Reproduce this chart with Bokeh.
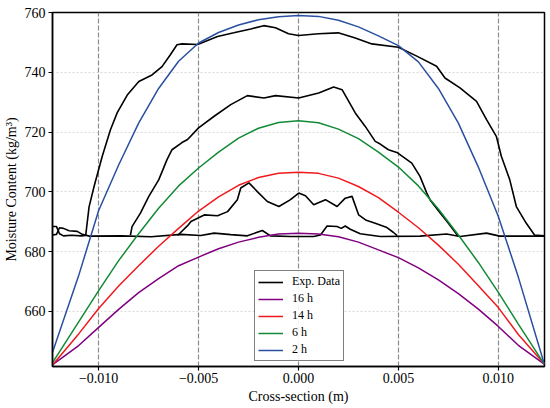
from bokeh.plotting import figure
from bokeh.models import Range1d, FixedTicker, Legend, LegendItem, CustomJSTickFormatter
from bokeh.embed import file_html
from bokeh.resources import INLINE

# ---------------- data ----------------
x_model = [-0.0123, -0.011, -0.010, -0.009, -0.008, -0.007, -0.006, -0.005, -0.004,
           -0.003, -0.002, -0.001, 0.0, 0.001, 0.002, 0.003, 0.004, 0.005, 0.006,
           0.007, 0.008, 0.009, 0.010, 0.011, 0.0123]
m_2h = [646.5, 672.0, 693.8, 709.0, 723.0, 734.6, 743.7, 749.8, 753.3, 755.8, 757.6, 758.6,
        759.0, 758.7, 757.4, 755.2, 752.2, 748.9, 743.5, 734.6, 723.0, 708.3, 691.8, 671.5, 642.4]
m_6h = [643.0, 656.5, 667.0, 677.0, 686.0, 694.5, 702.0, 708.0, 713.3, 718.0, 721.3, 723.2,
        723.8, 723.1, 721.0, 717.8, 713.3, 708.3, 702.0, 694.3, 685.6, 676.4, 666.4, 655.8, 642.4]
m_14h = [642.2, 652.5, 661.0, 668.5, 675.3, 681.8, 687.8, 693.6, 698.3, 702.2, 704.8, 706.2,
         706.6, 706.2, 704.6, 701.8, 698.1, 693.2, 688.0, 682.2, 675.8, 668.6, 661.3, 652.3, 642.4]
m_16h = [642.2, 648.6, 654.7, 660.7, 666.3, 671.0, 675.3, 678.2, 681.0, 683.2, 684.8, 685.9,
         686.2, 685.9, 685.0, 683.2, 680.6, 678.0, 674.6, 670.6, 666.0, 660.8, 655.0, 648.7, 642.4]

# experimental profiles (black)
exp1_x = [-0.01231, -0.01211, -0.01196, -0.01176, -0.01137, -0.01087, -0.01065, -0.01048,
          -0.01023, -0.00982, -0.00941, -0.00907, -0.00857, -0.00799, -0.00733, -0.00683,
          -0.00642, -0.00608, -0.00583, -0.00505, -0.00405, -0.00324, -0.00239, -0.00174,
          -0.00115, -0.00050, 0.0, 0.00100, 0.00199, 0.00284, 0.00367, 0.00500, 0.00592,
          0.00691, 0.00733, 0.00808, 0.00891, 0.00941, 0.00990, 0.01015, 0.01057, 0.01090,
          0.01140, 0.01181, 0.01231]
exp1_y = [688.4, 688.4, 686.0, 685.3, 685.5, 685.3, 685.4, 695.0,
          701.8, 711.9, 720.8, 726.5, 732.4, 736.9, 739.1, 741.9,
          745.8, 749.2, 749.5, 749.3, 752.0, 753.2, 754.5, 755.6,
          754.9, 752.9, 752.3, 752.9, 753.2, 751.5, 749.5, 748.4, 745.4,
          742.0, 738.1, 734.8, 730.3, 724.2, 718.6, 711.9, 704.1, 695.1,
          689.5, 685.6, 685.3]

exp2_x = [-0.00841, -0.00833, -0.00791, -0.00749, -0.00699, -0.00658, -0.00633, -0.00583,
          -0.00555, -0.00500, -0.00422, -0.00339, -0.00256, -0.00173, -0.00115, 0.00001,
          0.00101, 0.00176, 0.00218, 0.00284, 0.00334, 0.00384, 0.00409, 0.00450, 0.00492,
          0.00567, 0.00608, 0.00642, 0.00658, 0.00700, 0.00750, 0.00799]
exp2_y = [685.5, 688.4, 692.9, 698.5, 704.1, 710.8, 714.1, 716.5,
          717.5, 721.4, 725.3, 729.2, 732.2, 731.4, 732.2, 731.4,
          733.1, 735.1, 734.2, 726.4, 721.9, 716.9, 716.0, 714.1, 713.2,
          709.6, 705.2, 699.6, 697.4, 693.7, 689.5, 685.2]

exp3_x = [-0.00605, -0.00555, -0.00538, -0.00472, -0.00405, -0.00355, -0.00306, -0.00289,
          -0.00248, -0.00206, -0.00156, -0.00098, -0.00040, 0.00001, 0.00035, 0.00076,
          0.00135, 0.00193, 0.00234, 0.00268, 0.00301, 0.00339, 0.00384, 0.00439, 0.00474,
          0.00494]
exp3_y = [685.4, 688.7, 690.1, 692.3, 692.0, 693.4, 697.4, 701.3,
          703.0, 700.1, 696.8, 695.1, 697.4, 699.6, 698.7, 695.7,
          697.4, 695.1, 697.9, 698.5, 692.3, 690.5, 689.5, 688.2, 686.5,
          685.4]

exp4_x = [-0.01231, -0.01211, -0.01196, -0.01176, -0.01148, -0.01107, -0.01082, -0.01047,
          -0.00887, -0.00738, -0.00588, -0.00489, -0.00422, -0.00339, -0.00256, -0.00181,
          -0.00140, -0.00040, 0.00076, 0.00110, 0.00143, 0.00193, 0.00214, 0.00234, 0.00259,
          0.00309, 0.00409, 0.00608, 0.00741, 0.00808, 0.00941, 0.01007, 0.01231]
exp4_y = [685.6, 685.8, 688.0, 687.8, 687.0, 686.8, 685.8, 685.2,
          685.3, 685.0, 685.8, 685.4, 686.2, 685.7, 685.3, 687.1,
          685.3, 685.1, 685.1, 685.6, 688.6, 688.4, 687.8, 688.6, 687.5,
          686.0, 685.1, 685.2, 685.9, 685.1, 686.2, 685.2, 685.2]

x_ticks = [-0.010, -0.005, 0.0, 0.005, 0.010]
y_ticks = [660, 680, 700, 720, 740, 760]
legend_labels = ["Exp. Data", "16 h", "14 h", "6 h", "2 h"]

# ---------------- figure ----------------
FONT = "Liberation Serif, Times New Roman, serif"
p = figure(width=550, height=408, output_backend="svg", toolbar_location=None,
           x_range=Range1d(-0.01231, 0.01231), y_range=Range1d(641.6, 760.0),
           min_border_left=51, min_border_right=6, min_border_top=12, min_border_bottom=42)
p.background_fill_color = "white"
p.border_fill_color = "white"
p.outline_line_color = "black"
p.outline_line_width = 1.5

black_rs = []
for xs, ys in [(exp1_x, exp1_y), (exp2_x, exp2_y), (exp3_x, exp3_y), (exp4_x, exp4_y)]:
    black_rs.append(p.line(xs, ys, line_color="black", line_width=1.6))

r16 = p.line(x_model, m_16h, line_color="#800080", line_width=1.5)
r14 = p.line(x_model, m_14h, line_color="#f01a1e", line_width=1.5)
r6 = p.line(x_model, m_6h, line_color="#138a36", line_width=1.5)
r2 = p.line(x_model, m_2h, line_color="#2a4fa0", line_width=1.5)

# axes
p.xaxis.ticker = FixedTicker(ticks=x_ticks)
p.yaxis.ticker = FixedTicker(ticks=y_ticks)
p.xaxis.formatter = CustomJSTickFormatter(
    code="return (tick < -1e-9 ? '\u2212' : '') + Math.abs(tick).toFixed(3);")
p.xaxis.axis_label = "Cross-section (m)"
p.yaxis.axis_label = "Moisture Content (kg/m\u00b3)"
for ax in (p.xaxis, p.yaxis):
    ax.axis_label_text_font = FONT
    ax.axis_label_text_font_style = "normal"
    ax.axis_label_text_font_size = "14px"
    ax.axis_label_text_color = "black"
    ax.major_label_text_font = FONT
    ax.major_label_text_font_size = "14px"
    ax.major_label_text_color = "black"
    ax.axis_line_color = "black"
    ax.axis_line_width = 1.5
    ax.major_tick_line_color = "black"
    ax.major_tick_line_width = 1.2
    ax.major_tick_in = 0
    ax.major_tick_out = 4
    ax.minor_tick_line_color = None
p.xaxis.major_label_standoff = 2
p.xaxis.axis_label_standoff = 3
p.yaxis.major_label_standoff = 3
p.yaxis.axis_label_standoff = 3

# grids
p.xgrid.grid_line_color = "#8c8c8c"
p.xgrid.grid_line_dash = "5 2"
p.xgrid.grid_line_width = 1.2
p.ygrid.grid_line_color = "#cfcfcf"
p.ygrid.grid_line_dash = "2 2"
p.ygrid.grid_line_width = 0.8

legend = Legend(items=[
    LegendItem(label=legend_labels[0], renderers=[black_rs[0]]),
    LegendItem(label=legend_labels[1], renderers=[r16]),
    LegendItem(label=legend_labels[2], renderers=[r14]),
    LegendItem(label=legend_labels[3], renderers=[r6]),
    LegendItem(label=legend_labels[4], renderers=[r2]),
], location=(202, 5))
legend.label_text_font = FONT
legend.label_text_font_size = "12px"
legend.label_text_color = "black"
legend.glyph_width = 25
legend.glyph_height = 14
legend.label_height = 14
legend.spacing = 2
legend.padding = 3
legend.margin = 0
legend.label_standoff = 9
legend.border_line_color = "black"
legend.border_line_width = 1.2
legend.background_fill_color = "white"
legend.background_fill_alpha = 0.9
p.add_layout(legend)

open("out.html", "w").write(file_html(p, INLINE))
